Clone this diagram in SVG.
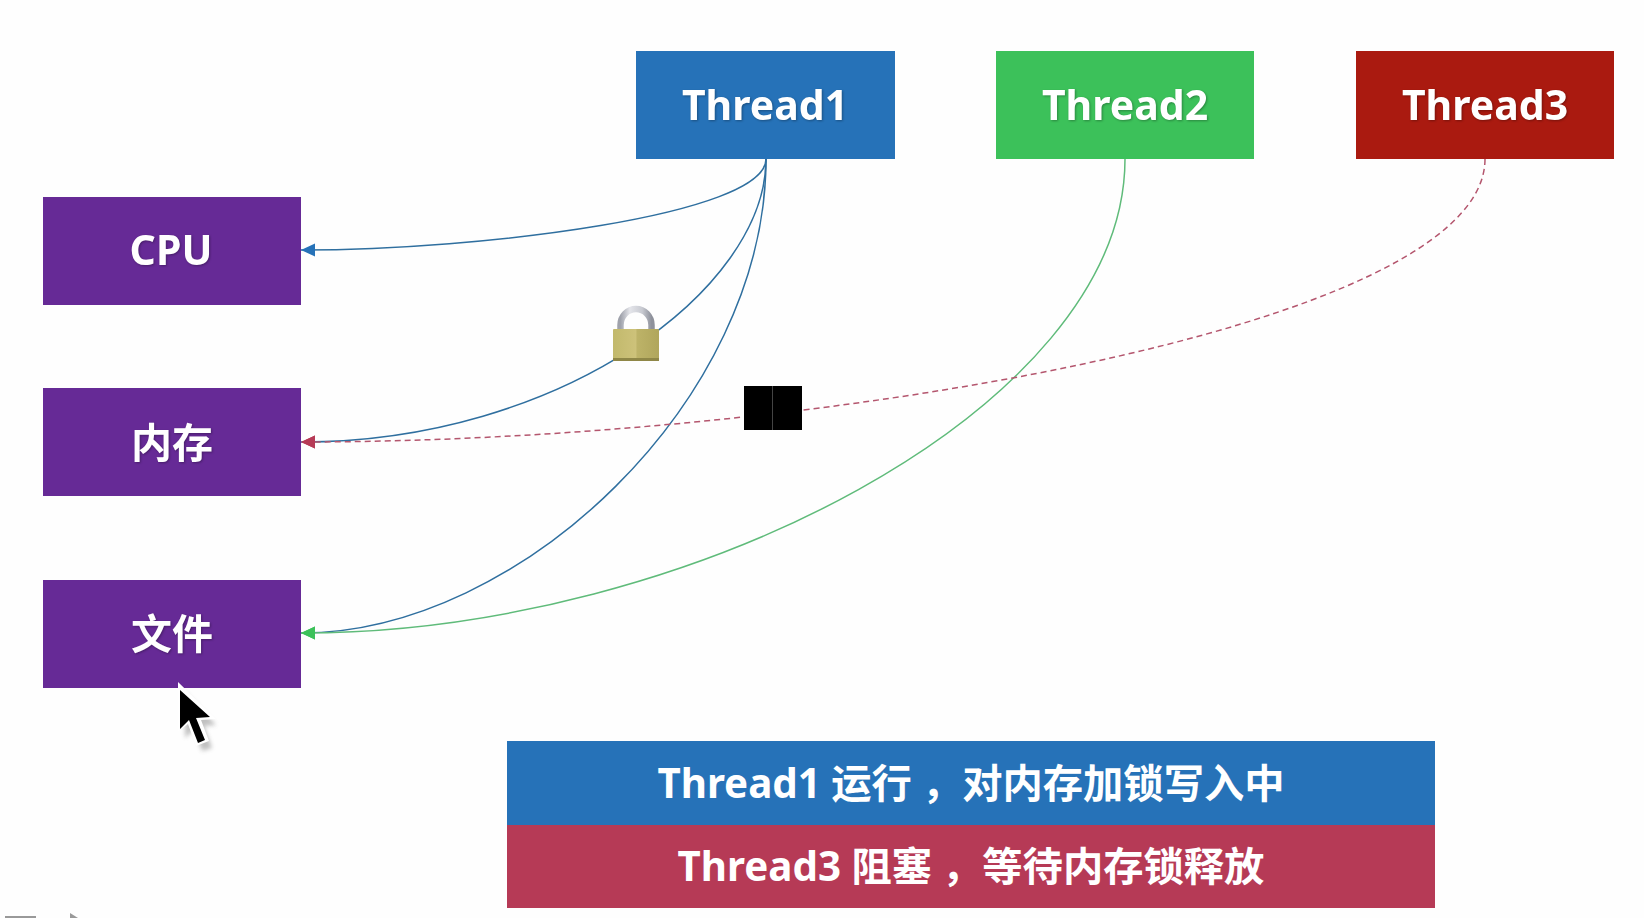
<svg xmlns="http://www.w3.org/2000/svg" width="1644" height="918" viewBox="0 0 1644 918">
<style>
.t{font-family:"Noto Sans","Noto Sans CJK SC",sans-serif;font-weight:700;fill:#fff;text-anchor:middle}
.n{font-size:41px;filter:drop-shadow(1px 1px 1px rgba(0,0,0,.3))}
.b{font-size:40.3px}
.c{fill:none;stroke-width:1.5}
</style>
<defs>
<marker id="ab" markerUnits="userSpaceOnUse" markerWidth="16" markerHeight="16" refX="15" refY="8" orient="auto"><path d="M15 8L1 1.5V14.5Z" fill="#2672b8"/></marker>
<marker id="ag" markerUnits="userSpaceOnUse" markerWidth="16" markerHeight="16" refX="15" refY="8" orient="auto"><path d="M15 8L1 1.5V14.5Z" fill="#3cc15a"/></marker>
<marker id="ar" markerUnits="userSpaceOnUse" markerWidth="16" markerHeight="16" refX="15" refY="8" orient="auto"><path d="M15 8L1 1.5V14.5Z" fill="#b63a56"/></marker>
<linearGradient id="lb" x1="0" x2="1" y1="0" y2="0"><stop offset="0" stop-color="#c2b96c"/><stop offset=".5" stop-color="#cdc27a"/><stop offset=".52" stop-color="#bdb368"/><stop offset="1" stop-color="#b0a65c"/></linearGradient>
<linearGradient id="ls" x1="0" x2="1" y1="0" y2="0"><stop offset="0" stop-color="#9fa2ab"/><stop offset=".3" stop-color="#e4e5ea"/><stop offset=".7" stop-color="#c8cad1"/><stop offset="1" stop-color="#8e919b"/></linearGradient>
<filter id="s" x="-30%" y="-30%" width="160%" height="160%"><feGaussianBlur stdDeviation="2"/></filter>
</defs>
<rect width="1644" height="918" fill="#fefefe"/>
<g id="connectors">
<path class="c" stroke="#2f6f9f" marker-end="url(#ab)" d="M766 159C766 215 480 250 301 250"/>
<path class="c" stroke="#2f6f9f" marker-end="url(#ar)" d="M766 159C766 290 560 442 301 442"/>
<path class="c" stroke="#2f6f9f" marker-end="url(#ag)" d="M766 159C766 400 520 633 301 633"/>
<path class="c" stroke="#5fbb7a" marker-end="url(#ag)" d="M1125 159C1125 408 690 633 301 633"/>
<path class="c" stroke="#b4566e" stroke-dasharray="6 4" marker-end="url(#ar)" d="M1485 159C1485 330 800 442 301 442"/>
</g>
<g id="thread1"><rect x="636" y="51" width="259" height="108" fill="#2672b8"/><text class="t n" x="765" y="120">Thread1</text></g>
<g id="thread2"><rect x="996" y="51" width="258" height="108" fill="#3cc15a"/><text class="t n" x="1125" y="120">Thread2</text></g>
<g id="thread3"><rect x="1356" y="51" width="258" height="108" fill="#aa1a10"/><text class="t n" x="1485" y="120">Thread3</text></g>
<g id="cpu"><rect x="43" y="197" width="258" height="108" fill="#662a96"/><text class="t n" x="171" y="265">CPU</text></g>
<g id="memory"><rect x="43" y="388" width="258" height="108" fill="#662a96"/><text class="t n" x="172" y="458">内存</text></g>
<g id="file"><rect x="43" y="580" width="258" height="108" fill="#662a96"/><text class="t n" x="172" y="649">文件</text></g>
<g id="lock">
<path d="M620.5 333V325A15.5 16 0 0 1 651.5 325V333" fill="none" stroke="url(#ls)" stroke-width="6.5"/>
<rect x="613" y="329" width="46" height="32" rx="1" fill="url(#lb)"/>
<rect x="613" y="358" width="46" height="3" fill="#8f8747"/>
</g>
<g id="blocked">
<rect x="744" y="386" width="58" height="44" fill="#000"/>
<rect x="772" y="386" width="1" height="44" fill="#444"/>
</g>
<g id="status1"><rect x="507" y="741" width="928" height="84" fill="#2672b8"/><text class="t b" x="971" y="798">Thread1 运行<tspan dx="10">，对内存加锁写入中</tspan></text></g>
<g id="status2"><rect x="507" y="825" width="928" height="83" fill="#b63a56"/><text class="t b" x="971" y="881">Thread3 阻塞<tspan dx="10">，等待内存锁释放</tspan></text></g>
<g id="cursor">
<path d="M181 688L212 721L200 722L208 744L198 747L190 726L181 734Z" fill="#777" opacity=".45" filter="url(#s)" transform="translate(4 4)"/>
<path d="M178 682V732L188 724L196 746L209 741L201 720L216 719Z" fill="#fff"/>
<path d="M180 690V729L189 720L198 743L205 740L196 718L210 717Z" fill="#000"/>
</g>
<rect x="5" y="916" width="31" height="2" fill="#999"/>
<path d="M70 913L78 918H70Z" fill="#999"/>
</svg>
